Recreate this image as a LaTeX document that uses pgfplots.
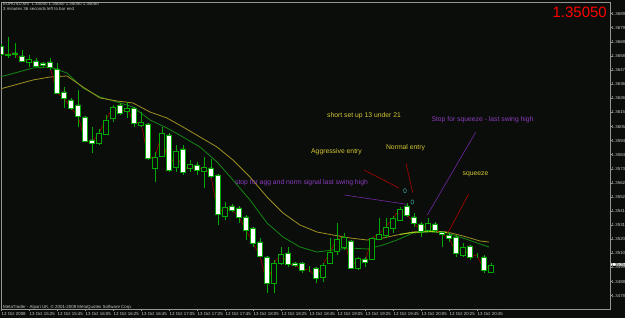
\documentclass[border=0pt]{standalone}
\usepackage{pgfplots}
\pgfplotsset{compat=1.18}
\usepackage{pgfplotstable}
\usepackage{fontspec}
\setmainfont{Liberation Sans}
\definecolor{bg}{RGB}{10,13,10}
\definecolor{framegray}{RGB}{150,150,150}
\definecolor{labelgray}{RGB}{200,200,200}
\definecolor{cgreen}{RGB}{0,170,0}
\definecolor{mafast}{RGB}{20,135,20}
\definecolor{maslow}{RGB}{160,145,35}
\definecolor{malime}{RGB}{165,215,25}
\definecolor{closered}{RGB}{150,0,0}
\definecolor{annoyellow}{RGB}{215,200,50}
\definecolor{annopurple}{RGB}{140,60,190}
\definecolor{annored}{RGB}{175,0,0}
\definecolor{annopurpleline}{RGB}{115,40,160}
\definecolor{annocyan}{RGB}{60,150,150}

\pgfplotstableread{
i O H L C
0 1.366550 1.366700 1.365800 1.365950
1 1.365875 1.367225 1.365650 1.365950
2 1.366025 1.366775 1.365650 1.365950
3 1.365800 1.366250 1.365350 1.365425
4 1.365350 1.365875 1.364975 1.365575
5 1.365425 1.365650 1.364975 1.365050
6 1.365275 1.365350 1.364975 1.365125
7 1.365350 1.365650 1.364750 1.364975
8 1.364825 1.365275 1.362950 1.363025
9 1.363100 1.363475 1.361900 1.362650
10 1.362500 1.362650 1.361750 1.361900
11 1.362125 1.363250 1.360475 1.361300
12 1.361225 1.361300 1.359350 1.359425
13 1.359500 1.360475 1.358525 1.359275
14 1.359275 1.360325 1.359125 1.360025
15 1.359950 1.361375 1.359875 1.361000
16 1.361150 1.362125 1.360850 1.361975
17 1.362125 1.362275 1.361375 1.361525
18 1.361675 1.362350 1.361150 1.361900
19 1.361900 1.361975 1.360475 1.360775
20 1.360625 1.361600 1.360475 1.360850
21 1.360700 1.360775 1.358000 1.358150
22 1.357400 1.358600 1.356350 1.358225
23 1.358300 1.360475 1.358225 1.360025
24 1.359875 1.360025 1.357100 1.357250
25 1.357475 1.359125 1.357100 1.358675
26 1.358825 1.359125 1.356875 1.357100
27 1.357400 1.358000 1.357100 1.357700
28 1.357625 1.357850 1.356875 1.357250
29 1.357175 1.358225 1.355900 1.357475
30 1.357400 1.358075 1.356650 1.356800
31 1.356875 1.356950 1.353125 1.353950
32 1.353800 1.354850 1.353500 1.354475
33 1.354550 1.354700 1.354100 1.354250
34 1.354400 1.354550 1.353275 1.353725
35 1.353725 1.353875 1.352000 1.352750
36 1.352900 1.352975 1.351475 1.351775
37 1.351850 1.352150 1.350725 1.350800
38 1.350725 1.350800 1.348025 1.348775
39 1.348775 1.350500 1.348025 1.350275
40 1.350275 1.351475 1.350125 1.350950
41 1.351025 1.351475 1.349975 1.350200
42 1.350275 1.350350 1.349975 1.350125
43 1.350275 1.350350 1.349525 1.349750
44 1.349825 1.350050 1.349600 1.349825
45 1.349900 1.349975 1.348775 1.349150
46 1.349225 1.350275 1.348850 1.350125
47 1.350275 1.352150 1.350200 1.351100
48 1.351175 1.353275 1.350875 1.352075
49 1.351475 1.352525 1.351250 1.352225
50 1.351925 1.352000 1.349825 1.349900
51 1.349900 1.350725 1.349750 1.350650
52 1.350575 1.350725 1.349975 1.350350
53 1.350575 1.352225 1.350500 1.352150
54 1.352075 1.353650 1.352000 1.352450
55 1.352375 1.353650 1.352150 1.352975
56 1.352900 1.353800 1.352525 1.353650
57 1.353500 1.354475 1.353425 1.354325
58 1.354550 1.354775 1.353725 1.353875
59 1.353725 1.354025 1.352975 1.353275
60 1.353200 1.353350 1.352225 1.352675
61 1.352750 1.353650 1.352600 1.353275
62 1.353200 1.353350 1.352600 1.352750
63 1.352600 1.352675 1.351475 1.352450
64 1.352375 1.352600 1.351850 1.352150
65 1.352225 1.352375 1.350725 1.351025
66 1.350875 1.351775 1.350725 1.351475
67 1.351550 1.351625 1.350500 1.350725
68 1.350875 1.351025 1.350650 1.350875
69 1.350725 1.350875 1.349525 1.349750
70 1.349600 1.350275 1.349600 1.350125
}\candles

\pgfplotstableread{
x y
-0.14 1.364225
4.57 1.364900
7.0 1.364975
9.43 1.364525
11.71 1.363400
14.14 1.362725
16.57 1.362350
18.86 1.361975
21.29 1.361000
23.71 1.360400
26.0 1.359725
28.43 1.358975
30.86 1.357850
33.14 1.356500
35.57 1.355000
38.0 1.353275
40.29 1.352225
42.71 1.351475
45.14 1.351100
47.43 1.351250
49.86 1.351400
52.29 1.351325
54.57 1.351625
56.57 1.352000
58.86 1.352525
61.29 1.352600
63.71 1.352525
66.0 1.352150
68.43 1.351700
69.71 1.351475
}\mafasttab

\pgfplotstableread{
x y
-0.14 1.363325
4.57 1.364000
7.0 1.364225
9.43 1.364300
11.71 1.363475
14.14 1.362650
16.57 1.362425
18.86 1.362275
21.29 1.361600
23.71 1.361150
26.0 1.360475
28.43 1.359725
30.86 1.358975
33.14 1.358000
35.57 1.356725
38.0 1.355225
40.29 1.354025
42.71 1.353125
45.14 1.352600
47.43 1.352375
49.86 1.352150
52.29 1.352000
54.57 1.352150
56.57 1.352375
58.86 1.352600
61.29 1.352675
63.71 1.352600
66.0 1.352300
68.43 1.351925
69.71 1.351850
}\maslowtab

\pgfplotstableread{
x y
57.0 1.352420
58.86 1.352565
61.29 1.352640
63.71 1.352565
}\malimetab

\pgfplotsset{
  chartgeom/.style={
    at={(1pt,9pt)}, anchor=south west,
    width=609pt, height=307pt, scale only axis,
    xmin=0, xmax=87, enlargelimits=false,
  },
}

\begin{document}
\begin{tikzpicture}
\useasboundingbox (0,0) rectangle (625pt,318pt);
\fill[bg] (0,0) rectangle (625pt,318pt);
\clip (0,0) rectangle (625pt,318pt);

% ---------- axis A: frame, ticks, moving averages, wicks ----------
\begin{axis}[chartgeom,
  ymin=1.346825, ymax=1.36985,
  axis line style={draw=framegray, line width=0.7pt},
  xtick pos=bottom, ytick pos=right, yticklabel pos=right,
  tick align=outside, major tick length=2pt,
  tick style={draw=framegray, line width=0.5pt},
  xtick={0,4,...,68},
  xticklabels={13 Oct 2008,13 Oct 15:25,13 Oct 15:45,13 Oct 16:05,13 Oct 16:25,13 Oct 16:45,13 Oct 17:05,13 Oct 17:25,13 Oct 17:45,13 Oct 18:05,13 Oct 18:25,13 Oct 18:45,13 Oct 19:05,13 Oct 19:25,13 Oct 19:45,13 Oct 20:05,13 Oct 20:25,13 Oct 20:45},
  xticklabel style={font=\fontsize{4.4}{5}\selectfont, text=labelgray, anchor=north west, inner sep=0pt, yshift=-1.5pt, xshift=0.5pt},
  ytick={1.36897,1.36792,1.36686,1.36580,1.36474,1.36369,1.36263,1.36157,1.36051,1.35946,1.35840,1.35734,1.35628,1.35523,1.35417,1.35311,1.35205,1.35100,1.34994,1.34888,1.34782},
  yticklabels={1.36897,1.36792,1.36686,1.36580,1.36474,1.36369,1.36263,1.36157,1.36051,1.35946,1.35840,1.35734,1.35628,1.35523,1.35417,1.35311,1.35205,1.35100,1.34994,1.34888,1.34782},
  yticklabel style={font=\fontsize{4.4}{5}\selectfont, text=labelgray, anchor=west, inner sep=0pt, xshift=-0.5pt},
]
\addplot[mafast, line width=0.8pt, mark=none] table[x=x, y=y] {\mafasttab};
\addplot[maslow, line width=0.8pt, mark=none] table[x=x, y=y] {\maslowtab};
\addplot[malime, line width=0.8pt, mark=none] table[x=x, y=y] {\malimetab};
\addplot[closered, line width=0.7pt, mark=none] table[x=i, y=C] {\candles};
\addplot[draw=none, mark=none,
  error bars/.cd, y dir=plus, y explicit, error mark=none,
  error bar style={draw=cgreen, line width=0.8pt, solid}]
  table[x=i, y=L, y error plus expr={\thisrow{H}-\thisrow{L}}] {\candles};
\end{axis}

% ---------- axis B: candle bodies (values shown relative to 1.34) ----------
\begin{axis}[chartgeom, hide axis,
  ymin=0.006825, ymax=0.02985,
  ybar stacked, bar width=0.62,
]
\addplot[draw=none, fill=none] table[x=i, y expr={min(\thisrow{O},\thisrow{C})-1.34}] {\candles};
\addplot[draw=cgreen, fill=white, line width=0.8pt] table[x=i, y expr={max(\thisrow{O}-\thisrow{C},0)}] {\candles};
\addplot[draw=cgreen, fill=bg, line width=0.8pt] table[x=i, y expr={max(\thisrow{C}-\thisrow{O},0)}] {\candles};
\end{axis}

% ---------- axis C: annotations ----------
\begin{axis}[chartgeom, hide axis, ymin=1.346825, ymax=1.36985]
\draw[annored, line width=0.6pt] (axis cs:51.86,1.357250) -- (axis cs:56.86,1.355900);
\draw[annored, line width=0.6pt] (axis cs:57.86,1.357753) -- (axis cs:58.81,1.355548);
\draw[annored, line width=0.6pt] (axis cs:66.81,1.355450) -- (axis cs:63.81,1.352503);
\draw[annopurpleline, line width=0.6pt] (axis cs:49.05,1.355375) -- (axis cs:57.96,1.354678);
\draw[annopurpleline, line width=0.6pt] (axis cs:67.81,1.360078) -- (axis cs:60.90,1.353875);
\draw[annocyan, line width=0.5pt] (axis cs:57.71,1.355698) ellipse [x radius=1.4pt, y radius=2.2pt];
\draw[annocyan, line width=0.5pt] (axis cs:58.76,1.354850) ellipse [x radius=1.4pt, y radius=2.2pt];
\node[font=\fontsize{6.8}{7}\selectfont, text=annoyellow, inner sep=0pt] at (axis cs:51.86,1.361300) {short set up 13 under 21};
\node[font=\fontsize{6.8}{7}\selectfont, text=annoyellow, inner sep=0pt] at (axis cs:47.93,1.358600) {Aggressive entry};
\node[font=\fontsize{6.8}{7}\selectfont, text=annoyellow, inner sep=0pt] at (axis cs:57.79,1.358938) {Normal entry};
\node[font=\fontsize{6.8}{7}\selectfont, text=annoyellow, inner sep=0pt] at (axis cs:67.79,1.356913) {squeeze};
\node[font=\fontsize{6.8}{7}\selectfont, text=annopurple, inner sep=0pt] at (axis cs:68.79,1.361000) {Stop for squeeze - last swing high};
\node[font=\fontsize{6.8}{7}\selectfont, text=annopurple, inner sep=0pt] at (axis cs:42.93,1.356275) {stop for agg and norm signal last swing high};
\end{axis}

% ---------- window texts ----------
\node[anchor=north west, inner sep=0pt, font=\fontsize{4.4}{5}\selectfont, text=labelgray] at (3pt,315.5pt) {EURUSD,M5\ \ 1.35050 1.35060 1.35050 1.35050};
\node[anchor=north west, inner sep=0pt, font=\fontsize{4.4}{5}\selectfont, text=labelgray] at (3pt,310.7pt) {3 minutes 36 seconds left to bar end};
\node[anchor=north west, inner sep=0pt, font=\fontsize{4.4}{5}\selectfont, text=labelgray] at (3pt,13.2pt) {MetaTrader - Alpari UK, © 2001-2008 MetaQuotes Software Corp.};
\node[anchor=base east, inner sep=0pt, font=\fontsize{15}{15}\selectfont, text=red] at (607pt,300.7pt) {1.35050};
\node[anchor=west, inner sep=0.4pt, fill=white, text=black, font=\fontsize{4.4}{5}\selectfont] at (610.5pt,53.5pt) {1.35050};
\end{tikzpicture}
\end{document}
